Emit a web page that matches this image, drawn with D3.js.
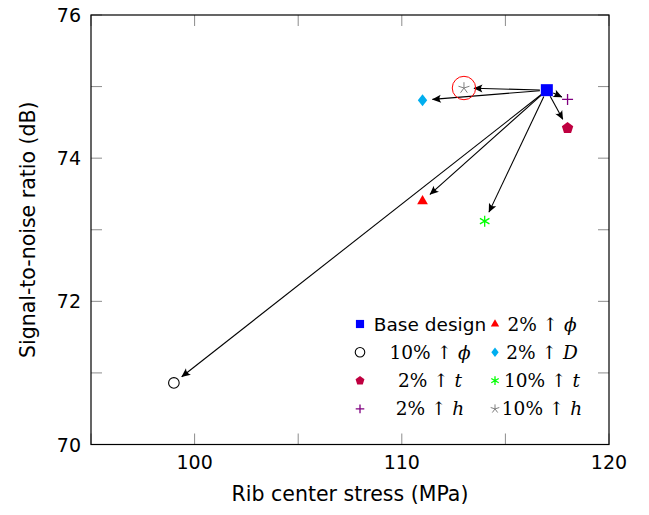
<!DOCTYPE html>
<html><head><meta charset="utf-8">
<script src="https://cdn.jsdelivr.net/npm/d3@7"></script>
<style>
html,body{margin:0;padding:0;background:#fff;}
svg{display:block;}
</style></head>
<body>
<svg id="chart" width="649" height="515"></svg>
<script>
// ---- data ----
const labelPct = ["", "2%", "10%", "2%", "2%", "10%", "2%", "10%"];
const labelVar = ["", "\u03D5", "\u03D5", "D", "t", "t", "h", "h"];
const stress = [117, 111, 99, 111, 118, 114, 118, 113];     // MPa
const snr = [74.95, 73.40, 70.86, 74.81, 74.42, 73.12, 74.82, 74.98]; // dB
const markerTypes = ["square", "triangle", "circle", "diamond", "pentagon", "asterisk", "plus", "star"];
const colors = ["#0000ff", "#ff0000", "#000000", "#00aeef", "#bf0040", "#00ff00", "#800080", "#808080"];
const xTicks = [95, 100, 105, 110, 115, 120];
const xTickLabels = [100, 110, 120];
const yTicks = [70, 71, 72, 73, 74, 75, 76];
const yTickLabels = [70, 72, 74, 76];
const highlightIndex = 7;

const svg = d3.select("#chart");
const L = 91, R = 609, T = 15, B = 444.5;
const x = d3.scaleLinear().domain([95, 120]).range([L, R]);
const y = d3.scaleLinear().domain([70, 76]).range([B, T]);
const SANS = "'DejaVu Sans', sans-serif";
const SERIF = "'DejaVu Serif', serif";

// ticks (inward, mirrored)
const tickLen = 11;
const tg = svg.append("g").attr("stroke", "#8c8c8c").attr("stroke-width", 1);
xTicks.forEach(v => {
  tg.append("line").attr("x1", x(v)).attr("x2", x(v)).attr("y1", B).attr("y2", B - tickLen);
  tg.append("line").attr("x1", x(v)).attr("x2", x(v)).attr("y1", T).attr("y2", T + tickLen);
});
yTicks.forEach(v => {
  tg.append("line").attr("y1", y(v)).attr("y2", y(v)).attr("x1", L).attr("x2", L + tickLen);
  tg.append("line").attr("y1", y(v)).attr("y2", y(v)).attr("x1", R).attr("x2", R - tickLen);
});
// frame
svg.append("rect").attr("x", L).attr("y", T).attr("width", R - L).attr("height", B - T)
  .attr("fill", "none").attr("stroke", "#000").attr("stroke-width", 1.2);

// tick labels
svg.append("g").selectAll("text").data(xTickLabels).join("text")
  .attr("x", d => x(d)).attr("y", 469).attr("text-anchor", "middle")
  .attr("font-family", SANS).attr("font-size", 19).text(d => d);
svg.append("g").selectAll("text").data(yTickLabels).join("text")
  .attr("x", 81).attr("y", d => y(d) + 7).attr("text-anchor", "end")
  .attr("font-family", SANS).attr("font-size", 19).text(d => d);

// axis titles
svg.append("text").attr("x", (L + R) / 2).attr("y", 501).attr("text-anchor", "middle")
  .attr("font-family", SANS).attr("font-size", 20.5).text("Rib center stress (MPa)");
svg.append("text").attr("transform", `translate(35,${(T + B) / 2}) rotate(-90)`)
  .attr("text-anchor", "middle").attr("font-family", SANS).attr("font-size", 20.5)
  .text("Signal-to-noise ratio (dB)");

// marker paths
function markerPath(type, k) {
  const p = d3.path();
  if (type === "square") { const h = 6 * k; p.rect(-h, -h, 2 * h, 2 * h); }
  else if (type === "triangle") {
    const r = 6.2 * k;
    p.moveTo(0, -r); p.lineTo(r * 0.866, r * 0.5); p.lineTo(-r * 0.866, r * 0.5); p.closePath();
  } else if (type === "diamond") {
    const w = 4.7 * k, h = 6 * k;
    p.moveTo(0, -h); p.lineTo(w, 0); p.lineTo(0, h); p.lineTo(-w, 0); p.closePath();
  } else if (type === "pentagon") {
    const r = 6 * k;
    for (let i = 0; i < 5; i++) {
      const a = -Math.PI / 2 + i * 2 * Math.PI / 5;
      if (i === 0) p.moveTo(r * Math.cos(a), r * Math.sin(a)); else p.lineTo(r * Math.cos(a), r * Math.sin(a));
    }
    p.closePath();
  } else if (type === "circle") { p.arc(0, 0, 5.3 * k, 0, 2 * Math.PI); }
  else if (type === "plus") {
    const h = 5.5 * k; p.moveTo(-h, 0); p.lineTo(h, 0); p.moveTo(0, -h); p.lineTo(0, h);
  } else if (type === "asterisk") {
    const h = 5.5 * k;
    for (let i = 0; i < 3; i++) {
      const a = Math.PI / 2 + i * Math.PI / 3;
      p.moveTo(-h * Math.cos(a), -h * Math.sin(a)); p.lineTo(h * Math.cos(a), h * Math.sin(a));
    }
  } else if (type === "star") {
    const h = 5.8 * k;
    for (let i = 0; i < 5; i++) {
      const a = -Math.PI / 2 + i * 2 * Math.PI / 5;
      p.moveTo(0, 0); p.lineTo(h * Math.cos(a), h * Math.sin(a));
    }
  }
  return p.toString();
}
function styleMarker(sel, i, k) {
  const t = markerTypes[i];
  sel.attr("d", markerPath(t, k));
  if (t === "circle") sel.attr("fill", "none").attr("stroke", colors[i]).attr("stroke-width", 1.1);
  else if (t === "plus" || t === "asterisk" || t === "star")
    sel.attr("fill", "none").attr("stroke", colors[i]).attr("stroke-width", t === "star" ? 1 : 1.3);
  else sel.attr("fill", colors[i]).attr("stroke", "none");
}

// arrowhead
svg.append("defs").append("marker").attr("id", "ah")
  .attr("viewBox", "-10 -5 12 10").attr("refX", 0).attr("refY", 0)
  .attr("markerWidth", 12).attr("markerHeight", 10).attr("markerUnits", "userSpaceOnUse")
  .attr("orient", "auto")
  .append("path").attr("d", "M0.5,0 L-8.5,-4 Q-5.5,0 -8.5,4 Z").attr("fill", "#000");

// arrows from base design to every variant
const bx = x(stress[0]), by = y(snr[0]);
const startGap = 7, endGap = 10;
const arrows = svg.append("g");
d3.range(1, stress.length).forEach(i => {
  const tx = x(stress[i]), ty = y(snr[i]);
  const dx = tx - bx, dy = ty - by, len = Math.hypot(dx, dy);
  const ux = dx / len, uy = dy / len;
  const eg = Math.min(endGap, len - startGap - 9.5);
  arrows.append("line")
    .attr("x1", bx + ux * startGap).attr("y1", by + uy * startGap)
    .attr("x2", tx - ux * eg).attr("y2", ty - uy * eg)
    .attr("stroke", "#000").attr("stroke-width", 1.1)
    .attr("marker-end", "url(#ah)");
});

// highlight circle
svg.append("circle").attr("cx", x(stress[highlightIndex])).attr("cy", y(snr[highlightIndex]))
  .attr("r", 11.7).attr("fill", "none").attr("stroke", "#ff0000").attr("stroke-width", 1);

// data markers
d3.range(stress.length).forEach(i => {
  svg.append("path").attr("transform", `translate(${x(stress[i])},${y(snr[i])})`)
    .call(styleMarker, i, 1);
});

// legend (2 columns, row-wise)
const legX = [360, 495], legTextX = [430, 542], legY0 = 324, legDy = 28.3;
labelPct.forEach((pct, i) => {
  const col = i % 2, row = Math.floor(i / 2);
  const cy = legY0 + row * legDy;
  const t = markerTypes[i];
  const k = (t === "square") ? 0.68 : (t === "circle" ? 0.9 : 0.78);
  svg.append("path").attr("transform", `translate(${legX[col]},${cy})`).call(styleMarker, i, k);
  if (i === 0) {
    svg.append("text").attr("x", legTextX[col]).attr("y", cy + 6.5).attr("text-anchor", "middle")
      .attr("font-family", SANS).attr("font-size", 18.5).text("Base design");
  } else {
    const tx = svg.append("text").attr("x", legTextX[col]).attr("y", cy + 6.5).attr("text-anchor", "middle")
      .attr("font-family", SERIF).attr("font-size", 18.5);
    tx.append("tspan").text(pct + " \u2191 ");
    tx.append("tspan").attr("font-style", "italic").text(labelVar[i]);
  }
});
</script>
</body></html>
